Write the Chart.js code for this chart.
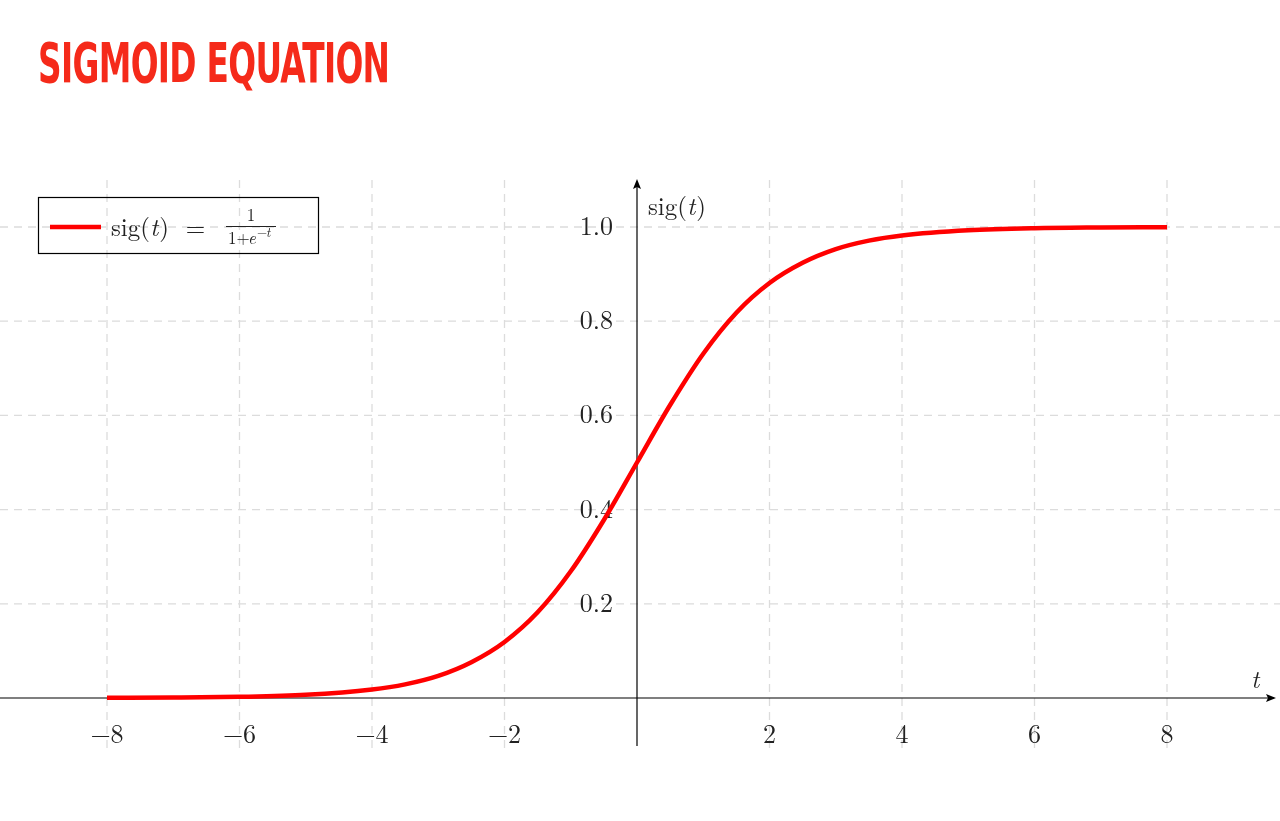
<!DOCTYPE html>
<html><head><meta charset="utf-8">
<script src="https://cdn.jsdelivr.net/npm/chart.js@4"></script>
<style>
html,body{margin:0;padding:0;background:#fff;width:1280px;height:821px;overflow:hidden}
#title{position:absolute;left:38px;top:30px;font-family:"Liberation Sans Narrow","DejaVu Sans Condensed",sans-serif;font-weight:bold;font-size:56px;color:#f52a1a;letter-spacing:-1px;transform:scaleX(0.65);transform-origin:left;white-space:nowrap}
#wrap{position:absolute;left:0;top:0;width:1280px;height:821px}
</style></head><body>
<div id="wrap"><canvas id="c" width="1280" height="821"></canvas></div>
<div id="title">SIGMOID EQUATION</div>
<script>
const tValues=[-8,-7,-6,-5,-4,-3.5,-3,-2.5,-2,-1.5,-1,-0.5,0,0.5,1,1.5,2,2.5,3,3.5,4,5,6,7,8];
const sigValues=[0.0003,0.0009,0.0025,0.0067,0.018,0.029,0.047,0.076,0.119,0.182,0.269,0.378,0.5,0.622,0.731,0.818,0.881,0.924,0.953,0.971,0.982,0.993,0.9975,0.999,0.9997];
const xTicks=[-8,-6,-4,-2,2,4,6,8];
const xTickLabels=["−8","−6","−4","−2","2","4","6","8"];
const yTicks=[0.2,0.4,0.6,0.8,1.0];
const yTickLabels=["0.2","0.4","0.6","0.8","1.0"];
const serif='"Latin Modern Roman","Liberation Serif","DejaVu Serif",serif';
const deco={id:'deco',beforeDatasetsDraw(ch){
 const c=ch.ctx,x=ch.scales.x,y=ch.scales.y;
 const x0=x.getPixelForValue(0),y0=y.getPixelForValue(0);
 c.save();
 c.strokeStyle='#dcdcdc';c.lineWidth=1.3;c.setLineDash([8,6]);
 xTicks.forEach(v=>{const p=x.getPixelForValue(v);c.beginPath();c.moveTo(p,180);c.lineTo(p,752);c.stroke();});
 yTicks.forEach(v=>{const p=y.getPixelForValue(v);c.beginPath();c.moveTo(0,p);c.lineTo(1280,p);c.stroke();});
 c.setLineDash([]);c.strokeStyle='#000';c.lineWidth=1.2;
 c.beginPath();c.moveTo(0,y0);c.lineTo(1274,y0);c.stroke();
 c.beginPath();c.moveTo(1276,y0);c.lineTo(1266,y0-4);c.lineTo(1268,y0);c.lineTo(1266,y0+4);c.closePath();c.fill();
 c.beginPath();c.moveTo(x0,746);c.lineTo(x0,182);c.stroke();
 c.beginPath();c.moveTo(x0,179);c.lineTo(x0-4,189);c.lineTo(x0,187);c.lineTo(x0+4,189);c.closePath();c.fill();
 c.fillStyle='#222';c.font='26px '+serif;c.textAlign='center';c.textBaseline='middle';
 xTicks.forEach((v,i)=>c.fillText(xTickLabels[i],x.getPixelForValue(v),735));
 c.textAlign='right';
 yTicks.forEach((v,i)=>c.fillText(yTickLabels[i],613,y.getPixelForValue(v)));
 c.textAlign='left';c.font='25px '+serif;c.fillText('sig(',648,207);
 let w=c.measureText('sig(').width;c.font='italic 25px '+serif;c.fillText('t',648+w,207);
 let w2=c.measureText('t').width;c.font='25px '+serif;c.fillText(')',648+w+w2+1,207);
 c.font='italic 25px '+serif;c.fillText('t',1251,680);
 // legend
 c.strokeStyle='#000';c.lineWidth=1.2;c.strokeRect(38.5,197.5,280,56);
 c.strokeStyle='#ff0000';c.lineWidth=4.5;c.beginPath();c.moveTo(50,227);c.lineTo(101,227);c.stroke();
 c.fillStyle='#222';c.font='25px '+serif;c.fillText('sig(',111,228);
 w=c.measureText('sig(').width;c.font='italic 25px '+serif;c.fillText('t',111+w,228);
 w2=c.measureText('t').width;c.font='25px '+serif;c.fillText(')  =',112+w+w2,228);
 c.lineWidth=1;c.strokeStyle='#222';c.beginPath();c.moveTo(226,226.5);c.lineTo(276,226.5);c.stroke();
 c.font='17px '+serif;c.textAlign='center';c.fillText('1',251,216);
 c.textAlign='left';c.fillText('1+',228,239);c.font='italic 17px '+serif;c.fillText('e',248,239);
 c.font='13px '+serif;c.fillText('−',257,233);c.font='italic 13px '+serif;c.fillText('t',266,233);
 c.restore();
}};
new Chart(document.getElementById('c'),{
 type:'line',
 data:{datasets:[{data:tValues.map((t,i)=>({x:t,y:sigValues[i]})),borderColor:'#ff0000',borderWidth:4.5,pointRadius:0,cubicInterpolationMode:'monotone',fill:false}]},
 options:{responsive:false,animation:false,layout:{padding:0},
  plugins:{legend:{display:false},tooltip:{enabled:false}},
  scales:{x:{type:'linear',display:false,min:-637/66.25,max:643/66.25},
          y:{type:'linear',display:false,min:-123/471,max:698/471}}},
 plugins:[deco]
});
</script></body></html>
